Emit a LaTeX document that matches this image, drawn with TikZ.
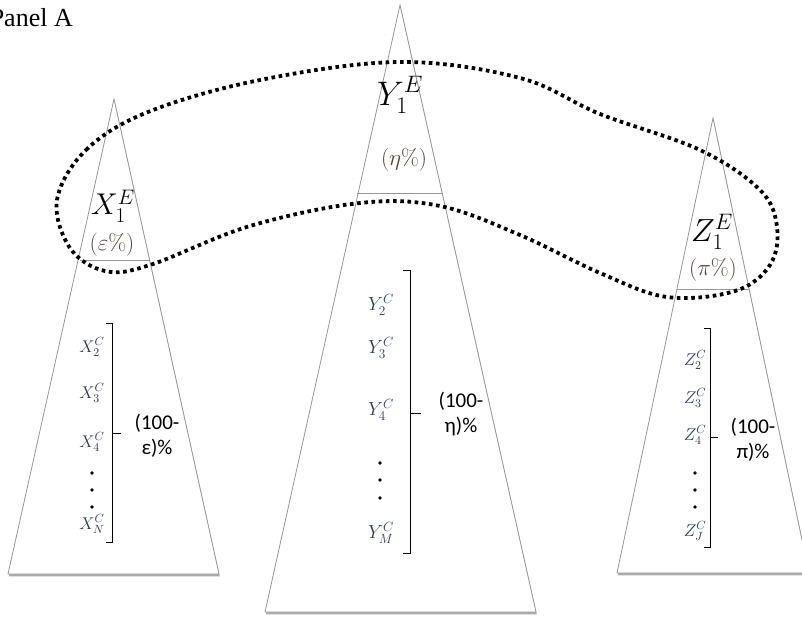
\RequirePackage{fix-cm}
\documentclass[tikz,border=0pt]{standalone}
\usepackage{fontspec}
\newfontfamily\panelfont{Liberation Serif}
\newfontfamily\sharefont{Carlito}
\usetikzlibrary{shadows}
\definecolor{edgegray}{RGB}{150,150,150}
\definecolor{itemblue}{RGB}{48,58,84}
\definecolor{sharebrown}{RGB}{78,70,62}

\begin{document}
\begin{tikzpicture}[x=1pt, y=-1pt,
  tri/.style={draw=edgegray, line width=0.8pt, fill=white,
              drop shadow={shadow xshift=0.8pt, shadow yshift=-2.4pt, opacity=0.55, fill=black!60}},
  sep/.style={draw=edgegray, line width=0.9pt},
  head/.style={inner sep=0pt, text=black},
  pct/.style={inner sep=0pt, text=sharebrown, font=\fontsize{23}{23}\selectfont},
  item/.style={inner sep=0pt, text=itemblue, font=\fontsize{17}{17}\selectfont},
  bigitem/.style={item, font=\fontsize{19}{19}\selectfont},
  dot/.style={circle, fill=black, inner sep=0pt, minimum size=3.6pt},
  brk/.style={draw=black, line width=0.8pt},
  share/.style={inner sep=0pt, align=center, font=\sharefont\fontsize{21}{25}\selectfont},
  loop/.style={draw=black, line width=3.8pt, dash pattern=on 3.6pt off 3.6pt}
]
  \useasboundingbox (0,0) rectangle (802,617);
  \clip (0,0) rectangle (802,617);

  \node[inner sep=0pt, anchor=base east, font=\panelfont\fontsize{26}{26}\selectfont] (title) at (73,27) {Panel A};

  % the three trees
  \draw[tri] (114,99) -- (219,574) -- (8,574) -- cycle;
  \draw[tri] (400,5) -- (536,612) -- (265,612) -- cycle;
  \draw[tri] (713,118) -- (809,573) -- (617,573) -- cycle;

  \draw[sep] (80,260) -- (150,260);
  \draw[sep] (357,193) -- (443,193);
  \draw[sep] (677,289) -- (749,289);

  % top of each tree
  \node[head, font=\fontsize{30}{30}\selectfont] (x1) at (113,206) {$X_1^E$};
  \node[pct] (xp) at (112,245) {$(\varepsilon\%)$};
  \node[head, font=\fontsize{34}{34}\selectfont] (y1) at (400,95) {$Y_1^E$};
  \node[pct] (yp) at (404,160) {$(\eta\%)$};
  \node[head, font=\fontsize{32}{32}\selectfont] (z1) at (712,232) {$Z_1^E$};
  \node[pct] (zp) at (713,270) {$(\pi\%)$};

  % left tree
  \node[item] (x2) at (92,347) {$X_2^C$};
  \node[item] (x3) at (92,393) {$X_3^C$};
  \node[item] (x4) at (92,442) {$X_4^C$};
  \node[dot] (xd1) at (92,473) {};
  \node[dot] (xd2) at (92,490) {};
  \node[dot] (xd3) at (92,507) {};
  \node[item] (xn) at (92,524) {$X_N^C$};
  \draw[brk] (106,323) -- (112,323) -- (112,542) -- (106,542);
  \draw[brk] (112,433) -- (121,433);
  \node[share] (xs) at (157,436) {(100-\\ε)\%};

  % middle tree
  \node[bigitem] (y2) at (381,305) {$Y_2^C$};
  \node[bigitem] (y3) at (381,348) {$Y_3^C$};
  \node[bigitem] (y4) at (381,410) {$Y_4^C$};
  \node[dot] (yd1) at (380,463) {};
  \node[dot] (yd2) at (380,480) {};
  \node[dot] (yd3) at (380,498) {};
  \node[bigitem] (ym) at (381,533) {$Y_M^C$};
  \draw[brk] (403,270) -- (410,270) -- (410,553) -- (403,553);
  \draw[brk] (410,413) -- (421,413);
  \node[share] (ys) at (461,414) {(100-\\η)\%};

  % right tree
  \node[item] (z2) at (695,360) {$Z_2^C$};
  \node[item] (z3) at (695,398) {$Z_3^C$};
  \node[item] (z4) at (695,435) {$Z_4^C$};
  \node[dot] (zd1) at (695,473) {};
  \node[dot] (zd2) at (695,490) {};
  \node[dot] (zd3) at (695,507) {};
  \node[item] (zj) at (695,531) {$Z_J^C$};
  \draw[brk] (704,328) -- (710,328) -- (710,547) -- (704,547);
  \draw[brk] (710,437) -- (718,437);
  \node[share] (zs) at (753,440) {(100-\\π)\%};

  % group of the E nodes
  \draw[loop] plot[smooth cycle, tension=0.6] coordinates {
    (57,200) (86,150) (148,112) (260,80) (400,62) (520,78) (600,114)
    (700,150) (760,190) (777,227) (770,265) (735,291) (667,297)
    (600,273) (520,235) (440,206) (360,203) (250,226) (150,265)
    (105,271) (70,248)};
\end{tikzpicture}
\end{document}
